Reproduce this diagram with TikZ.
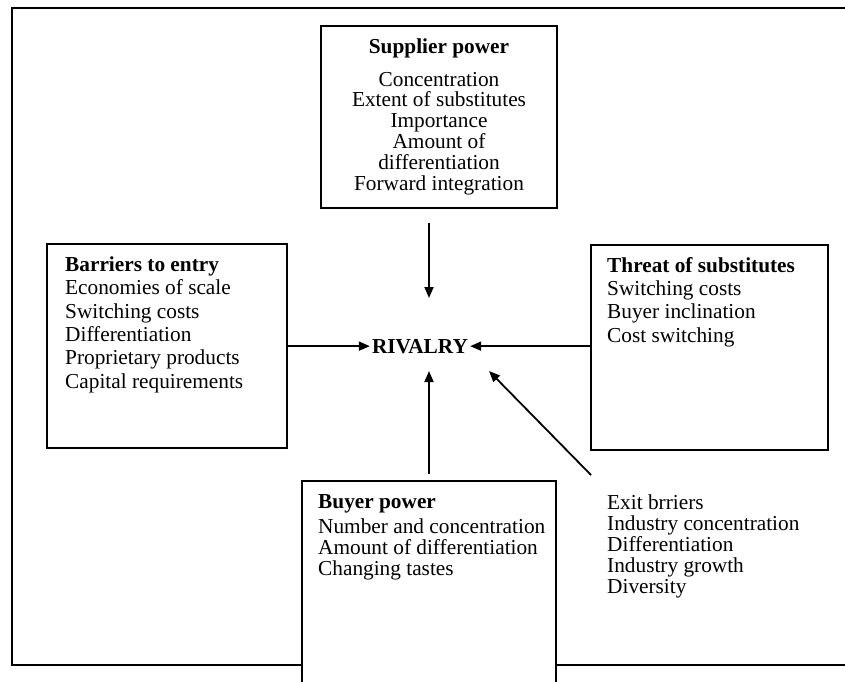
\documentclass[tikz,border=0pt]{standalone}
\usepackage{fontspec}
\setmainfont{Liberation Serif}
\usetikzlibrary{arrows.meta}
\begin{document}
\begin{tikzpicture}[x=1pt,y=-1pt,
  every node/.style={inner sep=0pt},
  txtA/.style={font=\fontsize{21.3}{20.8}\selectfont},
  txtB/.style={font=\fontsize{21.3}{23.3}\selectfont},
  box/.style={draw, line width=2pt, fill=white, inner sep=0pt},
  arr/.style={line width=1.8pt, -{Triangle[length=11pt,width=9pt]}},
  frame/.style={line width=2.6pt}]
\clip (0,0) rectangle (845,681);
\fill[white] (0,0) rectangle (845,681);
% outer frame (open on the right)
\draw[frame] (845,8) -- (12,8) -- (12,665) -- (845,665);

% boxes
\node[box, minimum width=236pt, minimum height=182pt] (sup) at (439,117) {};
\node[box, minimum width=240pt, minimum height=204pt] (bar) at (167,346) {};
\node[box, minimum width=237pt, minimum height=205pt] (thr) at (709.5,347.5) {};
\node[box, minimum width=254pt, minimum height=230pt] (buy) at (429,596) {};

% texts (anchored at the baseline of their last line)
\node[txtA, align=center, anchor=base] (supT) at (439,190)
  {\textbf{Supplier power}\\[12pt]Concentration\\Extent of substitutes\\Importance\\Amount of\\differentiation\\Forward integration};
\node[txtB, align=left, anchor=base west] (barT) at (65,388)
  {\textbf{Barriers to entry}\\Economies of scale\\Switching costs\\Differentiation\\Proprietary products\\Capital requirements};
\node[txtB, align=left, anchor=base west] (thrT) at (607,342)
  {\textbf{Threat of substitutes}\\Switching costs\\Buyer inclination\\Cost switching};
\node[txtA, align=left, anchor=base west] (buyT) at (318,575)
  {\textbf{Buyer power}\\[4pt]Number and concentration\\Amount of differentiation\\Changing tastes};
\node[txtA, align=left, anchor=base west] (exitT) at (607,593)
  {Exit brriers\\Industry concentration\\Differentiation\\Industry growth\\Diversity};
\node[txtA, anchor=base, inner sep=2pt] (riv) at (420,353) {\textbf{RIVALRY}};

% connectors
\coordinate (supA) at (429,223);
\coordinate (rivN) at (429,298);
\coordinate (rivS) at (429,371);
\coordinate (exitA) at (591,475);
\coordinate (rivSE) at (489,371);
\draw[arr] (supA) -- (rivN);
\draw[arr] (riv.west -| bar.east) -- (riv.west);
\draw[arr] (riv.east -| thr.west) -- (riv.east);
\draw[arr] ([yshift=6pt]buy.north) -- (rivS);
\draw[arr] (exitA) -- (rivSE);
\end{tikzpicture}
\end{document}
